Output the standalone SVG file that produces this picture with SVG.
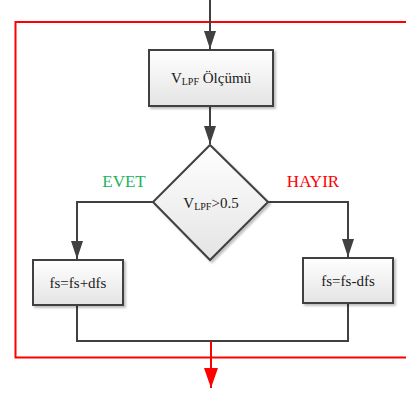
<svg xmlns="http://www.w3.org/2000/svg" width="406" height="396" viewBox="0 0 406 396">
<defs>
<linearGradient id="g" x1="0" y1="0" x2="0" y2="1"><stop offset="0" stop-color="#ffffff"/><stop offset="1" stop-color="#e4e4e4"/></linearGradient>
<filter id="sh" x="-10%" y="-10%" width="125%" height="130%"><feDropShadow dx="2" dy="2" stdDeviation="1.2" flood-color="#000" flood-opacity="0.25"/></filter>
<marker id="ah" markerWidth="18" markerHeight="12" refX="18" refY="6" orient="auto" markerUnits="userSpaceOnUse" viewBox="0 0 18 12"><path d="M0,0 L18,6 L0,12 z" fill="#404040"/></marker>
<marker id="ahr" markerWidth="20" markerHeight="14" refX="20" refY="7" orient="auto" markerUnits="userSpaceOnUse" viewBox="0 0 20 14"><path d="M0,0 L20,7 L0,14 z" fill="#ff0000"/></marker>
</defs>
<style>
.n{fill:url(#g);stroke:#404040;stroke-width:2;filter:url(#sh)}
.c{fill:none;stroke:#404040;stroke-width:2}
.t{font-family:"Liberation Serif","Times New Roman",serif;font-size:15px;fill:#1a1a1a;text-anchor:middle}
.s{font-size:10px}
.lab{font-family:"Liberation Serif","Times New Roman",serif;font-size:17px;text-anchor:middle}
</style>
<g id="frame"><path d="M406,22 H15.5 V357.5 H406" fill="none" stroke="#ff0000" stroke-width="2"/></g>
<g id="connectors">
<path class="c" d="M210,0 V49" marker-end="url(#ah)"/>
<path class="c" d="M210,107 V144" marker-end="url(#ah)"/>
<path class="c" d="M153,202 H77 V259" marker-end="url(#ah)"/>
<path class="c" d="M268,202 H348 V257" marker-end="url(#ah)"/>
<path class="c" d="M77,305 V341 H348 V303"/>
<path d="M211,341 V388" fill="none" stroke="#ff0000" stroke-width="2" marker-end="url(#ahr)"/>
</g>
<g id="n1"><rect class="n" x="149" y="50" width="124" height="56"/><text class="t" x="211" y="83">V<tspan class="s" dy="2">LPF</tspan><tspan dy="-2"> Ölçümü</tspan></text></g>
<g id="n2"><polygon class="n" points="210,145 268,202 210,260 153,202"/><text class="t" x="211" y="208">V<tspan class="s" dy="2">LPF</tspan><tspan dy="-2">&gt;0.5</tspan></text></g>
<g id="n3"><rect class="n" x="33" y="260" width="90" height="45"/><text class="t" x="78" y="288">fs=fs+dfs</text></g>
<g id="n4"><rect class="n" x="303" y="258" width="90" height="45"/><text class="t" x="348" y="286">fs=fs-dfs</text></g>
<text class="lab" x="124" y="187" style="fill:#22b35e">EVET</text>
<text class="lab" x="313" y="187" fill="#ff0000">HAYIR</text>
</svg>
